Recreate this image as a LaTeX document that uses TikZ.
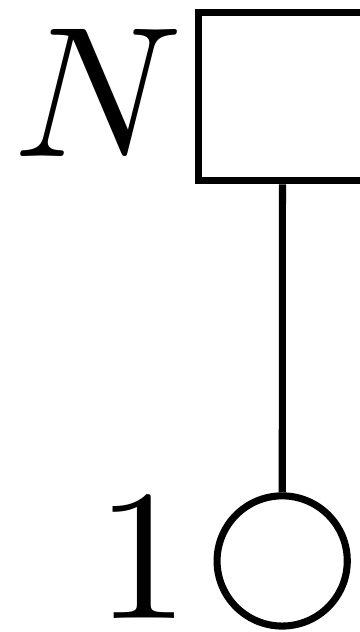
\documentclass[tikz,border=0pt]{standalone}
\begin{document}
\begin{tikzpicture}[x=1pt,y=1pt,line width=0.38pt,
  gaugebox/.style={draw,rectangle,minimum size=9.03pt,inner sep=0pt},
  gaugenode/.style={draw,circle,minimum size=7.0pt,inner sep=0pt},
  lbl/.style={inner sep=0pt,anchor=base east}]
\useasboundingbox (0,0) rectangle (19.30,-33.98);
\node[gaugebox] (sq) at (15.19,-5.21) {};
\node[gaugenode] (c) at (15.17,-30.16) {};
\draw (sq) -- (c);
\node[lbl] (nl) at (10.03,-8.42) {$N$};
\node[lbl] (ol) at (10.4,-33.24) {$1$};
\end{tikzpicture}
\end{document}
